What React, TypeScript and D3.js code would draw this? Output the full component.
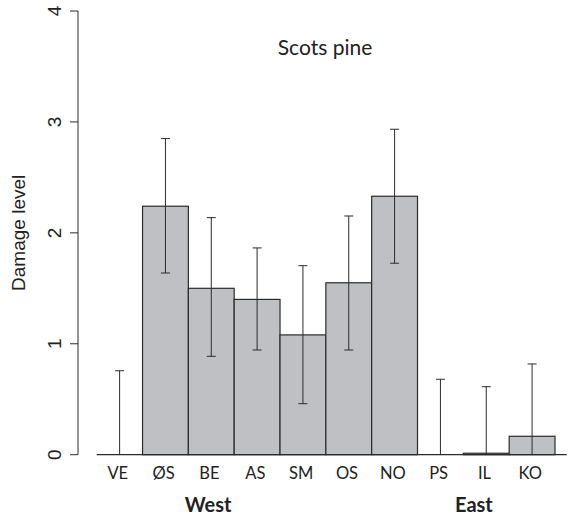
import React from "react";
import * as d3 from "d3";

// site codes, grouped by region
const sites = ["VE", "ØS", "BE", "AS", "SM", "OS", "NO", "PS", "IL", "KO"];
const meanDamage = [0, 2.24, 1.5, 1.4, 1.08, 1.55, 2.33, 0, 0.013, 0.166];
const upperCI = [0.757, 2.85, 2.137, 1.864, 1.704, 2.152, 2.934, 0.68, 0.613, 0.818];
const lowerCI = [-0.757, 1.638, 0.887, 0.944, 0.46, 0.944, 1.726, -0.68, -0.587, -0.486];
const yTicks = [0, 1, 2, 3, 4];
// region label sits inside a given site's band, at a fraction of its width
const groups = [
  { label: "West", site: "BE", frac: 0.43 },
  { label: "East", site: "IL", frac: 0.23 },
];

const width = 568;
const height = 516;
const margin = { top: 11, left: 78, bottom: 61.3 };

const barFill = "#bfc0c4";
const ink = "#2b2b2b";
const labelFont = "Lato, 'Noto Sans', sans-serif";
const axisFont = "'Liberation Sans', Arial, sans-serif";

export default function App() {
  const yScale = d3
    .scaleLinear()
    .domain([0, 4])
    .range([height - margin.bottom, margin.top]);

  const xScale = d3.scaleBand().domain(sites).range([96.7, 555]).padding(0);
  const bw = xScale.bandwidth();
  const y0 = yScale(0);
  const capHalf = 4.5;

  return (
    <svg
      width={width}
      height={height}
      style={{ position: "absolute", left: 0, top: 0, background: "#fff" }}
    >
      {/* Bars */}
      {sites.map((s, i) => (
        <rect
          key={`bar-${s}`}
          x={xScale(s)}
          y={yScale(meanDamage[i])}
          width={bw}
          height={y0 - yScale(meanDamage[i])}
          fill={barFill}
          stroke={ink}
          strokeWidth={1.2}
        />
      ))}

      {/* Baseline */}
      <line x1={96.7} x2={566.7} y1={y0} y2={y0} stroke={ink} strokeWidth={1.2} />

      {/* Error bars */}
      {sites.map((s, i) => {
        const cx = (xScale(s) as number) + bw / 2;
        const lo = Math.max(0, lowerCI[i]);
        return (
          <g key={`err-${s}`} stroke={ink} strokeWidth={1}>
            <line x1={cx} x2={cx} y1={yScale(upperCI[i])} y2={yScale(lo)} />
            <line
              x1={cx - capHalf}
              x2={cx + capHalf}
              y1={yScale(upperCI[i])}
              y2={yScale(upperCI[i])}
            />
            {lowerCI[i] > 0 && (
              <line
                x1={cx - capHalf}
                x2={cx + capHalf}
                y1={yScale(lowerCI[i])}
                y2={yScale(lowerCI[i])}
              />
            )}
          </g>
        );
      })}

      {/* Y axis */}
      <line
        x1={margin.left}
        x2={margin.left}
        y1={yScale(0)}
        y2={yScale(4)}
        stroke={ink}
        strokeWidth={1}
      />
      {yTicks.map((t) => {
        const y = yScale(t);
        return (
          <g key={`yt-${t}`}>
            <line x1={margin.left - 8} x2={margin.left} y1={y} y2={y} stroke={ink} />
            <text
              transform={`translate(${61}, ${y}) rotate(-90)`}
              textAnchor="middle"
              fontFamily={axisFont}
              fontSize={19}
              fill="#222"
            >
              {t}
            </text>
          </g>
        );
      })}
      <text
        transform={`translate(25, ${(yScale(0) + yScale(4)) / 2}) rotate(-90)`}
        textAnchor="middle"
        fontFamily={axisFont}
        fontSize={19}
        fill="#222"
      >
        Damage level
      </text>

      {/* X labels */}
      {sites.map((s) => (
        <text
          key={`xl-${s}`}
          x={(xScale(s) as number) + bw / 2 - 1.8}
          y={479}
          textAnchor="middle"
          fontFamily={labelFont}
          fontSize={16.5}
          fill="#222"
        >
          {s}
        </text>
      ))}

      {/* Group labels */}
      {groups.map((g) => (
        <text
          key={g.label}
          x={(xScale(g.site) as number) + bw * g.frac}
          y={511.5}
          textAnchor="middle"
          fontFamily={labelFont}
          fontWeight="bold"
          fontSize={20}
          fill="#222"
        >
          {g.label}
        </text>
      ))}

      {/* Title */}
      <text
        x={325}
        y={55}
        textAnchor="middle"
        fontFamily={labelFont}
        fontSize={21}
        fill="#222"
      >
        Scots pine
      </text>
    </svg>
  );
}
